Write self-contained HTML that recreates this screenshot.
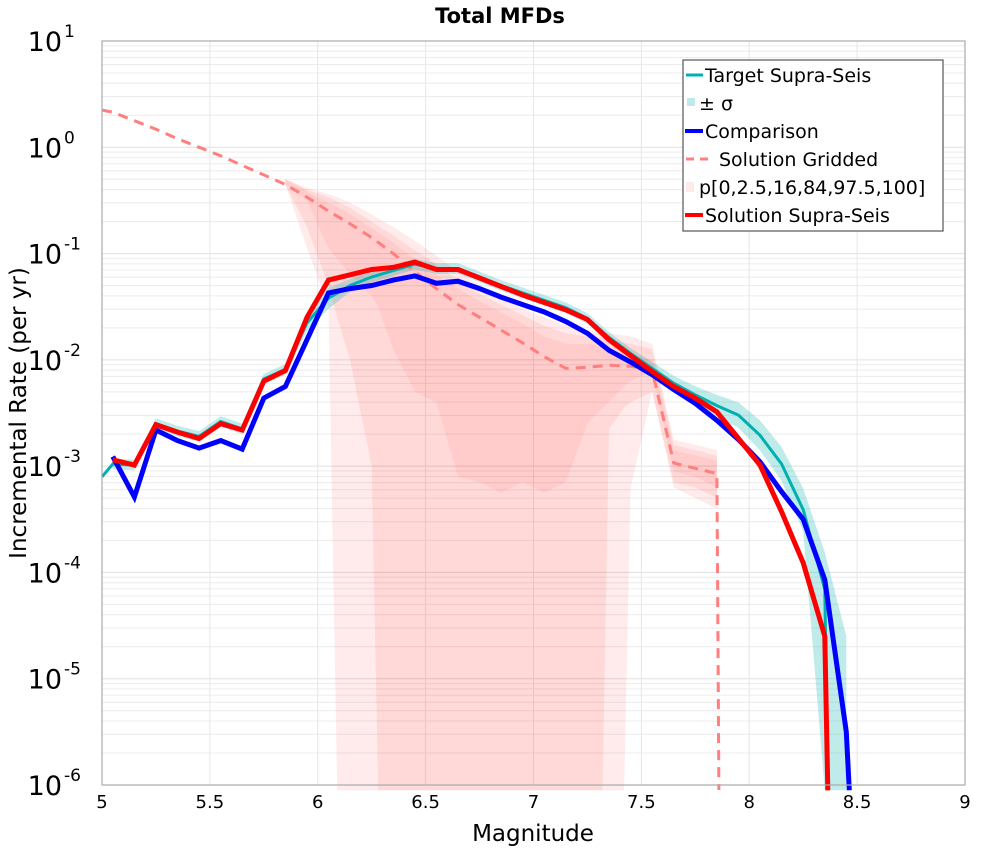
<!DOCTYPE html>
<html><head><meta charset="utf-8"><style>
body{margin:0;background:#fff;}
svg{display:block;font-family:"DejaVu Sans","Liberation Sans",sans-serif;}
</style></head><body>
<svg id="chart" width="1000" height="850">
<text x="500" y="23" text-anchor="middle" font-size="21" font-weight="bold">Total MFDs</text>
<g id="grid"></g>
<g id="bands"></g>
<g id="lines"></g>
<rect x="102" y="41" width="863" height="744" fill="none" stroke="#aaa" stroke-width="1.2"/>
<g id="xticks"></g>
<g id="yticks"></g>
<text x="533" y="841" text-anchor="middle" font-size="23">Magnitude</text>
<text transform="translate(26,413) rotate(-90)" text-anchor="middle" font-size="23">Incremental Rate (per yr)</text>
<g>
<rect x="683" y="60" width="260" height="171" fill="#fff" stroke="#555" stroke-width="1.2"/>
<g><line x1="686" x2="703" y1="75" y2="75" stroke="#00b0b0" stroke-width="3"/><text x="705" y="82" font-size="19">Target Supra-Seis</text></g>
<g><rect x="687" y="98" width="8" height="8" fill="#bfe9e9"/><text x="699" y="110" font-size="19">± σ</text></g>
<g><line x1="685" x2="703" y1="131" y2="131" stroke="#0000ff" stroke-width="4"/><text x="705" y="138" font-size="19">Comparison</text></g>
<g><line x1="686" x2="714" y1="159" y2="159" stroke="#ff7f7f" stroke-width="3" stroke-dasharray="8,6"/><text x="719" y="166" font-size="19">Solution Gridded</text></g>
<g><rect x="686" y="182" width="8" height="10" fill="#ffeaea"/><text x="699" y="194" font-size="19">p[0,2.5,16,84,97.5,100]</text></g>
<g><line x1="685" x2="703" y1="215" y2="215" stroke="#ff0000" stroke-width="4"/><text x="705" y="222" font-size="19">Solution Supra-Seis</text></g>
</g>
</svg>
<script>
// Data (log10 rate); -7 means zero / off-scale
const mags = [5.05,5.15,5.25,5.35,5.45,5.55,5.65,5.75,5.85,5.95,6.05,6.15,6.25,6.35,6.45,6.55,6.65,6.75,6.85,6.95,7.05,7.15,7.25,7.35,7.45,7.55,7.65,7.75,7.85,7.95,8.05,8.15,8.25,8.35,8.45];
const solution = [-2.94,-2.99,-2.61,-2.68,-2.74,-2.60,-2.66,-2.20,-2.10,-1.60,-1.25,-1.20,-1.15,-1.13,-1.08,-1.15,-1.15,-1.23,-1.31,-1.39,-1.46,-1.53,-1.62,-1.81,-1.96,-2.11,-2.25,-2.36,-2.49,-2.74,-2.99,-3.43,-3.91,-4.60,-7];
const comparison = [-2.91,-3.29,-2.66,-2.76,-2.83,-2.76,-2.84,-2.36,-2.25,-1.81,-1.37,-1.33,-1.30,-1.25,-1.21,-1.28,-1.26,-1.33,-1.41,-1.48,-1.55,-1.64,-1.75,-1.91,-2.02,-2.14,-2.28,-2.41,-2.57,-2.75,-2.96,-3.24,-3.50,-4.07,-5.50];
const target = [-2.98,-2.99,-2.60,-2.67,-2.72,-2.58,-2.65,-2.18,-2.09,-1.65,-1.42,-1.30,-1.22,-1.16,-1.10,-1.14,-1.14,-1.22,-1.30,-1.37,-1.44,-1.51,-1.61,-1.79,-1.94,-2.08,-2.22,-2.33,-2.43,-2.52,-2.71,-2.98,-3.41,-4.16,-7];
const sigma = [0.05,0.05,0.05,0.05,0.05,0.05,0.05,0.05,0.05,0.08,0.1,0.06,0.05,0.05,0.05,0.05,0.05,0.05,0.05,0.05,0.05,0.05,0.05,0.05,0.05,0.06,0.07,0.08,0.1,0.12,0.14,0.16,0.2,0.35,0.5];
const gridMags = [5.0,5.05,5.15,5.25,5.35,5.45,5.55,5.65,5.75,5.85,5.95,6.05,6.15,6.25,6.35,6.45,6.55,6.65,6.75,6.85,6.95,7.05,7.15,7.25,7.35,7.45,7.55,7.65,7.75,7.85];
const gridded = [0.35,0.33,0.25,0.17,0.08,0.0,-0.08,-0.17,-0.26,-0.35,-0.47,-0.6,-0.72,-0.85,-1.0,-1.17,-1.33,-1.48,-1.6,-1.72,-1.84,-1.97,-2.08,-2.07,-2.05,-2.06,-2.10,-2.97,-3.02,-3.07];
const pMags = [5.85,5.95,6.05,6.09,6.15,6.25,6.28,6.35,6.45,6.55,6.65,6.75,6.85,6.95,7.05,7.15,7.25,7.32,7.35,7.42,7.45,7.55,7.65,7.75,7.85];
const p0 = [-0.35,-0.95,-1.5,-7,-7,-7,-7,-7,-7,-7,-7,-7,-7,-7,-7,-7,-7,-7,-7,-7,-3.2,-2.3,-3.2,-3.3,-3.4];
const p2_5 = [-0.35,-0.75,-1.3,-1.6,-2.0,-3.0,-7,-7,-7,-7,-7,-7,-7,-7,-7,-7,-7,-7,-2.65,-2.45,-2.4,-2.3,-3.15,-3.2,-3.3];
const p16 = [-0.35,-0.5,-0.95,-1.05,-1.2,-1.4,-1.5,-1.9,-2.3,-2.4,-3.1,-3.15,-3.25,-3.15,-3.25,-3.15,-2.6,-2.45,-2.4,-2.25,-2.2,-2.1,-3.05,-3.1,-3.2];
const p84 = [-0.3,-0.42,-0.52,-0.56,-0.63,-0.76,-0.8,-0.9,-1.05,-1.2,-1.33,-1.45,-1.55,-1.66,-1.78,-1.85,-1.85,-1.88,-1.9,-1.94,-1.95,-2.0,-2.85,-2.9,-2.95];
const p97_5 = [-0.3,-0.4,-0.47,-0.51,-0.57,-0.7,-0.74,-0.83,-0.97,-1.1,-1.25,-1.38,-1.48,-1.58,-1.68,-1.75,-1.78,-1.79,-1.8,-1.84,-1.85,-1.9,-2.8,-2.85,-2.9];
const p100 = [-0.3,-0.38,-0.44,-0.47,-0.52,-0.63,-0.67,-0.75,-0.88,-1.02,-1.17,-1.3,-1.42,-1.52,-1.6,-1.68,-1.72,-1.74,-1.75,-1.77,-1.78,-1.85,-2.75,-2.8,-2.85];
const xTicks = [5,5.5,6,6.5,7,7.5,8,8.5,9];
const xTickLabels = ["5","5.5","6","6.5","7","7.5","8","8.5","9"];
const yDecades = [1,0,-1,-2,-3,-4,-5,-6];

const NS="http://www.w3.org/2000/svg";
const X0=102,X1=965,Y0=41,Y1=785,XMIN=5,XMAX=9,LMAX=1,LMIN=-6;
function xs(m){return X0+(m-XMIN)/(XMAX-XMIN)*(X1-X0);}
function ys(l){const c=Math.max(LMIN-0.05,Math.min(LMAX,l));return Y0+(LMAX-c)/(LMAX-LMIN)*(Y1-Y0);}
function mk(tag,attrs,parent){const e=document.createElementNS(NS,tag);for(const k in attrs)e.setAttribute(k,attrs[k]);parent.appendChild(e);return e;}

const grid=document.getElementById('grid');
for(let d=LMIN;d<LMAX;d++){for(let k=2;k<=9;k++){const y=ys(d+Math.log10(k));
const l=mk('line',{x1:X0,x2:X1,y1:y,y2:y,stroke:'#ececec','stroke-width':1},grid);

}}
yDecades.forEach(d=>{const y=ys(d);const l=mk('line',{x1:X0,x2:X1,y1:y,y2:y,stroke:'#e0e0e0','stroke-width':1},grid);

});
xTicks.forEach(m=>{const x=xs(m);const l=mk('line',{x1:x,x2:x,y1:Y0,y2:Y1,stroke:'#e6e6e6','stroke-width':1},grid);

});

function bandPath(ms,lo,hi){let d='';ms.forEach((m,i)=>{d+=(i?'L':'M')+xs(m).toFixed(1)+','+ys(hi[i]).toFixed(1);});
for(let i=ms.length-1;i>=0;i--){d+='L'+xs(ms[i]).toFixed(1)+','+ys(lo[i]).toFixed(1);}return d+'Z';}
const bands=document.getElementById('bands');
const b1=mk('path',{d:bandPath(pMags,p0,p100),fill:'rgba(255,0,0,0.08)'},bands);


const b2=mk('path',{d:bandPath(pMags,p2_5,p97_5),fill:'rgba(255,0,0,0.08)'},bands);


const b3=mk('path',{d:bandPath(pMags,p16,p84),fill:'rgba(255,0,0,0.06)'},bands);


const sLo=target.map((v,i)=>v<=-7?-7:v-sigma[i]);
const sHi=target.map((v,i)=>v<=-7?-7:v+sigma[i]);
const sMags=mags.slice();
const sb=mk('path',{d:bandPath(sMags,sLo.map((v,i)=>i>=33?-7:v),sHi.map((v,i)=>i===34?-4.6:v)),fill:'rgba(0,176,176,0.25)'},bands);



function linePath(ms,vals){let d='';let last=null;ms.forEach((m,i)=>{let x=xs(m);if(vals[i]<=-7&&last!==null){x=last+3;}
d+=(i?'L':'M')+x.toFixed(1)+','+ys(vals[i]).toFixed(1);last=x;});return d;}
const lines=document.getElementById('lines');
const gl=mk('path',{d:linePath(gridMags,gridded.concat()),fill:'none',stroke:'#ff7f7f','stroke-width':3,'stroke-dasharray':'10,7'},lines);
gl.setAttribute('d',gl.getAttribute('d')+'L'+(xs(gridMags[gridMags.length-1])+2).toFixed(1)+','+(Y1+5));


const tl=mk('path',{d:linePath([5.0].concat(mags),[-3.1].concat(target)),fill:'none',stroke:'#00b0b0','stroke-width':3},lines);


const cl=mk('path',{d:linePath(mags.concat([8.455]),comparison.concat([-7])),fill:'none',stroke:'#0000ff','stroke-width':5,'stroke-linejoin':'miter'},lines);


const rl=mk('path',{d:linePath(mags,solution),fill:'none',stroke:'#ff0000','stroke-width':5},lines);



const xt=document.getElementById('xticks');
xTicks.forEach((m,i)=>{const t=mk('text',{x:xs(m),y:808,'text-anchor':'middle','font-size':18},xt);t.textContent=xTickLabels[i];

});
const yt=document.getElementById('yticks');
yDecades.forEach(d=>{const t=mk('text',{x:62,y:ys(d)+10,'text-anchor':'end','font-size':27},yt);t.textContent='10';


const s=mk('text',{x:64,y:ys(d)-4,'font-size':17},yt);s.textContent=String(d);

});
</script>
</body></html>
